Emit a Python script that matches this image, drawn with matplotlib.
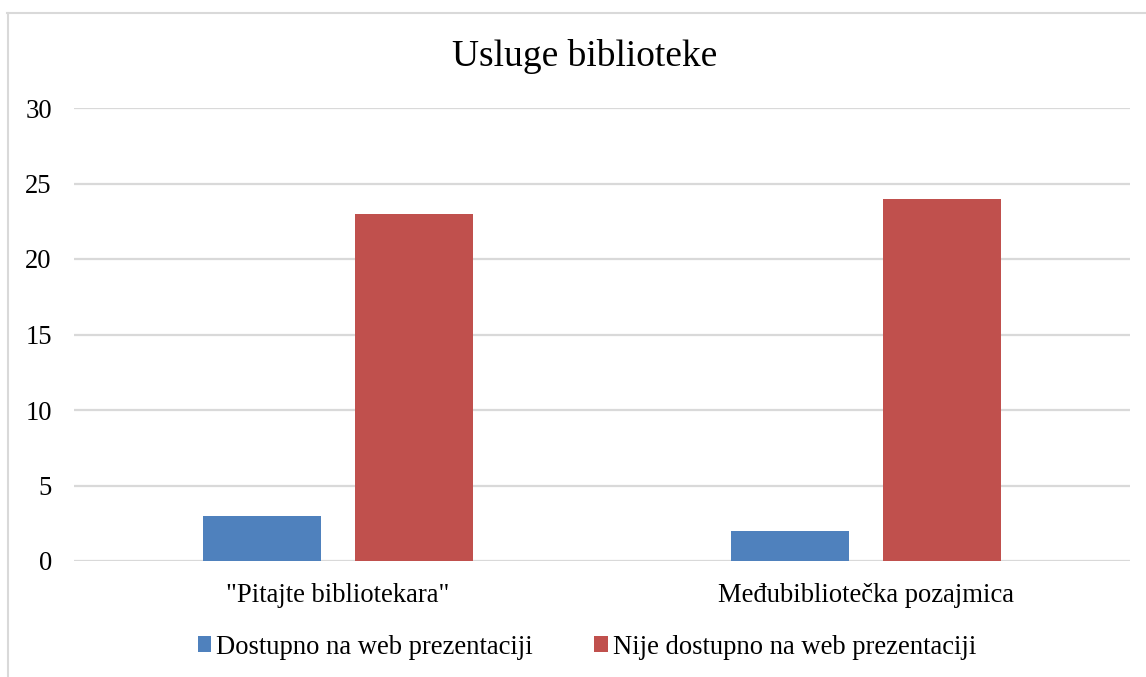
import matplotlib
matplotlib.use("Agg")
import matplotlib.pyplot as plt
from matplotlib.lines import Line2D
from matplotlib.patches import Patch
import numpy as np

plt.rcParams['font.family'] = ['Liberation Serif', 'DejaVu Serif']

# data
categories = ['"Pitajte bibliotekara"', 'Međubibliotečka pozajmica']
series_names = ['Dostupno na web prezentaciji', 'Nije dostupno na web prezentaciji']
dostupno = [3, 2]
nije_dostupno = [23, 24]
colors = ['#4F81BD', '#C0504D']

W, H = 1146, 677
fig = plt.figure(figsize=(W / 100, H / 100), dpi=100)
ax = fig.add_axes([74 / W, 1 - 561 / H, (1130 - 74) / W, (561 - 108) / H])

x = np.arange(len(categories))
bar_w = 0.224
off = 0.1435
ax.bar(x - off, dostupno, bar_w, color=colors[0], zorder=3)
ax.bar(x + off, nije_dostupno, bar_w, color=colors[1], zorder=3)

ax.set_xlim(-0.5, 1.5)
ax.set_ylim(0, 30)
ax.set_yticks(range(0, 31, 5))
ax.set_xticks(x)
ax.set_xticklabels(categories)
ax.grid(axis='y', color='#D9D9D9', linewidth=1.6, zorder=0)
for s in ax.spines.values():
    s.set_visible(False)
ax.tick_params(axis='both', length=0, labelsize=19.2, colors='black')
ax.tick_params(axis='y', pad=16)
ax.tick_params(axis='x', pad=16)

fig.text(584.5 / W, 1 - 57 / H, 'Usluge biblioteke', ha='center', va='center', fontsize=27)

handles = [Patch(facecolor=c) for c in colors]
fig.legend(handles, series_names, loc='center', bbox_to_anchor=(587 / W, 1 - 647 / H),
           ncol=2, frameon=False, fontsize=19.2, handlelength=0.5, handleheight=0.5,
           handletextpad=0.2, columnspacing=2.3)

# outer chart border (cropped on right and bottom)
fig.add_artist(Line2D([7.5 / W, 7.5 / W], [0, 1 - 12.5 / H], transform=fig.transFigure,
                      color='#D9D9D9', linewidth=1.5))
fig.add_artist(Line2D([7 / W, 1], [1 - 12.5 / H, 1 - 12.5 / H], transform=fig.transFigure,
                      color='#D9D9D9', linewidth=1.5))

fig.savefig('out.png', dpi=100)
